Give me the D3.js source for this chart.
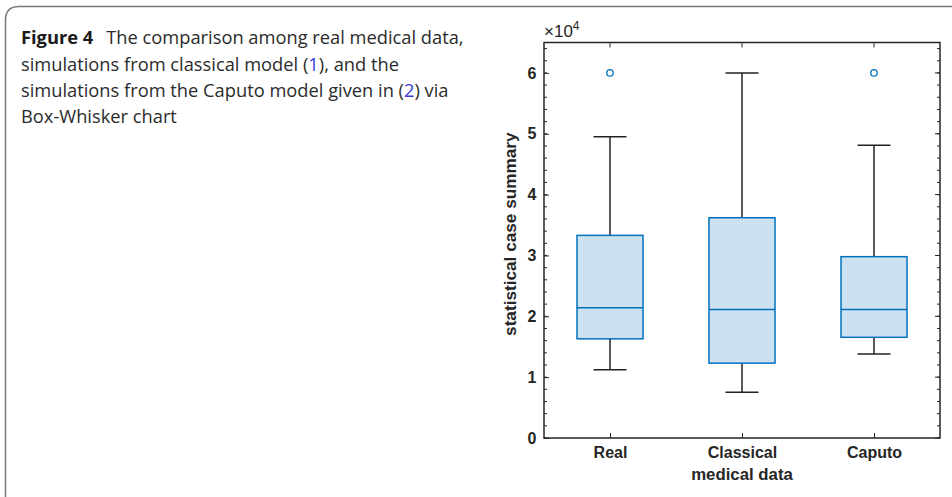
<!DOCTYPE html>
<html>
<head>
<meta charset="utf-8">
<script src="https://cdn.jsdelivr.net/npm/d3@7"></script>
<style>
  body { margin: 0; background: #fff; }
  svg { display: block; }
</style>
</head>
<body>
<svg id="fig" width="952" height="497"></svg>
<script>
// box-whisker stats (units of 1e4)
const categories = ["Real", "Classical", "Caputo"];
const lowerWhisker = [1.12, 0.75, 1.38];
const q1 = [1.63, 1.23, 1.655];
const median = [2.14, 2.11, 2.11];
const q3 = [3.33, 3.62, 2.98];
const upperWhisker = [4.95, 6.0, 4.81];
const outliers = [[6.0], [], [6.0]];
const yTicks = [0, 1, 2, 3, 4, 5, 6];

const svg = d3.select("#fig");

// caption frame
svg.append("path")
  .attr("d", "M5.5,497 L5.5,20 Q5.5,6.5 19,6.5 L952,6.5")
  .attr("fill", "none")
  .attr("stroke", "#7a7a7a")
  .attr("stroke-width", 1.5);

const caption = [
  [{t: "Figure 4", b: true}, {t: "The comparison among real medical data,", dx: 13}],
  [{t: "simulations from classical model ("}, {t: "1", link: true}, {t: "), and the"}],
  [{t: "simulations from the Caputo model given in ("}, {t: "2", link: true}, {t: ") via"}],
  [{t: "Box-Whisker chart"}]
];
const capText = svg.append("text")
  .attr("font-family", "'Open Sans', sans-serif")
  .attr("font-size", 18.3)
  .attr("fill", "#2b2b2b");
caption.forEach(function(line, i) {
  line.forEach(function(seg, j) {
    const ts = capText.append("tspan").text(seg.t)
      .style("white-space", "pre");
    if (j === 0) ts.attr("x", 21).attr("y", 44.3 + i * 26.3);
    if (seg.dx) ts.attr("dx", seg.dx);
    if (seg.b) ts.attr("font-weight", "bold").attr("fill", "#1a1a1a");
    if (seg.link) ts.attr("fill", "#3a3ad8");
  });
});

// chart area
const margin = {top: 42.5, left: 544, right: 12, bottom: 59};
const width = 952 - margin.left - margin.right,
      height = 497 - margin.top - margin.bottom;

const g = svg.append("g")
  .attr("transform", "translate(" + margin.left + "," + margin.top + ")");

const x = d3.scaleLinear().domain([0.5, 3.5]).range([0, width]);
const y = d3.scaleLinear().domain([0, 6.5]).range([height, 0]);

const axisColor = "#262626";
const fontAx = "'Liberation Sans', Arial, sans-serif";
const minorTicks = d3.range(0, 6.5001, 0.2).map(function(v) { return +v.toFixed(1); });

// left axis with labels
const yAxis = g.append("g")
  .call(d3.axisLeft(y).tickValues(yTicks).tickSizeInner(-5).tickSizeOuter(0).tickPadding(7.5)
    .tickFormat(d3.format("d")));
yAxis.selectAll("text").attr("font-family", fontAx)
  .attr("font-weight", "bold").attr("font-size", 16).attr("fill", axisColor);
yAxis.selectAll("line").attr("stroke", axisColor);
yAxis.select(".domain").remove();

// minor ticks left and right
g.append("g").selectAll("line.minorL")
  .data(minorTicks)
  .enter().append("line")
    .attr("x1", 0).attr("x2", 3)
    .attr("y1", function(d) { return y(d); })
    .attr("y2", function(d) { return y(d); })
    .attr("stroke", axisColor);
g.append("g").selectAll("line.minorR")
  .data(minorTicks)
  .enter().append("line")
    .attr("x1", width).attr("x2", width - 3)
    .attr("y1", function(d) { return y(d); })
    .attr("y2", function(d) { return y(d); })
    .attr("stroke", axisColor);
g.append("g").selectAll("line.majorR")
  .data(yTicks)
  .enter().append("line")
    .attr("x1", width).attr("x2", width - 5)
    .attr("y1", function(d) { return y(d); })
    .attr("y2", function(d) { return y(d); })
    .attr("stroke", axisColor);

// bottom axis
const xAxis = g.append("g")
  .attr("transform", "translate(0," + height + ")")
  .call(d3.axisBottom(x).tickValues([1, 2, 3]).tickSizeInner(-5).tickSizeOuter(0).tickPadding(9)
    .tickFormat(function(d) { return categories[d - 1]; }));
xAxis.selectAll("text").attr("font-family", fontAx)
  .attr("font-weight", "bold").attr("font-size", 16).attr("fill", axisColor);
xAxis.selectAll("line").attr("stroke", axisColor);
xAxis.select(".domain").remove();

// top ticks
g.append("g").selectAll("line")
  .data([1, 2, 3])
  .enter().append("line")
    .attr("x1", function(d) { return x(d); })
    .attr("x2", function(d) { return x(d); })
    .attr("y1", 0).attr("y2", 5)
    .attr("stroke", axisColor);

// boxes
const idx = d3.range(categories.length);
const boxW = x(0.25) - x(0), capW = x(0.125) - x(0);

g.selectAll("line.whiskerUp")
  .data(idx).enter().append("line")
    .attr("x1", function(i) { return x(i + 1); })
    .attr("x2", function(i) { return x(i + 1); })
    .attr("y1", function(i) { return y(q3[i]); })
    .attr("y2", function(i) { return y(upperWhisker[i]); })
    .attr("stroke", "#222").attr("stroke-width", 1.5);
g.selectAll("line.whiskerDown")
  .data(idx).enter().append("line")
    .attr("x1", function(i) { return x(i + 1); })
    .attr("x2", function(i) { return x(i + 1); })
    .attr("y1", function(i) { return y(q1[i]); })
    .attr("y2", function(i) { return y(lowerWhisker[i]); })
    .attr("stroke", "#222").attr("stroke-width", 1.5);
g.selectAll("line.capUp")
  .data(idx).enter().append("line")
    .attr("x1", function(i) { return x(i + 1) - capW; })
    .attr("x2", function(i) { return x(i + 1) + capW; })
    .attr("y1", function(i) { return y(upperWhisker[i]); })
    .attr("y2", function(i) { return y(upperWhisker[i]); })
    .attr("stroke", "#222").attr("stroke-width", 1.5);
g.selectAll("line.capDown")
  .data(idx).enter().append("line")
    .attr("x1", function(i) { return x(i + 1) - capW; })
    .attr("x2", function(i) { return x(i + 1) + capW; })
    .attr("y1", function(i) { return y(lowerWhisker[i]); })
    .attr("y2", function(i) { return y(lowerWhisker[i]); })
    .attr("stroke", "#222").attr("stroke-width", 1.5);

g.selectAll("rect.box")
  .data(idx).enter().append("rect")
    .attr("x", function(i) { return x(i + 1) - boxW; })
    .attr("width", 2 * boxW)
    .attr("y", function(i) { return y(q3[i]); })
    .attr("height", function(i) { return y(q1[i]) - y(q3[i]); })
    .attr("fill", "#cce2f1")
    .attr("stroke", "#0072bd").attr("stroke-width", 1.5);

g.selectAll("line.median")
  .data(idx).enter().append("line")
    .attr("x1", function(i) { return x(i + 1) - boxW; })
    .attr("x2", function(i) { return x(i + 1) + boxW; })
    .attr("y1", function(i) { return y(median[i]); })
    .attr("y2", function(i) { return y(median[i]); })
    .attr("stroke", "#0072bd").attr("stroke-width", 1.5);

const outPts = [];
outliers.forEach(function(arr, i) { arr.forEach(function(v) { outPts.push({i: i, v: v}); }); });
g.selectAll("circle.out")
  .data(outPts).enter().append("circle")
    .attr("cx", function(d) { return x(d.i + 1); })
    .attr("cy", function(d) { return y(d.v); })
    .attr("r", 3.2)
    .attr("fill", "none")
    .attr("stroke", "#0072bd").attr("stroke-width", 1.3);

// axes frame
g.append("rect")
  .attr("x", 0).attr("y", 0).attr("width", width).attr("height", height)
  .attr("fill", "none").attr("stroke", axisColor).attr("stroke-width", 1.5);

// exponent label
const expo = g.append("text")
  .attr("x", 0).attr("y", -5.5)
  .attr("font-family", fontAx)
  .attr("font-size", 17).attr("fill", axisColor);
expo.append("tspan").text("\u00d710");
expo.append("tspan").attr("dy", -7).attr("font-size", 12).text("4");

// axis titles
g.append("text")
  .attr("transform", "rotate(-90)")
  .attr("x", -(y(3.35))).attr("y", -28)
  .attr("text-anchor", "middle")
  .attr("font-family", fontAx)
  .attr("font-weight", "bold").attr("font-size", 17.2).attr("fill", axisColor)
  .text("statistical case summary");

g.append("text")
  .attr("x", width / 2).attr("y", height + 42)
  .attr("text-anchor", "middle")
  .attr("font-family", fontAx)
  .attr("font-weight", "bold").attr("font-size", 16.8).attr("fill", axisColor)
  .text("medical data");
</script>
</body>
</html>
